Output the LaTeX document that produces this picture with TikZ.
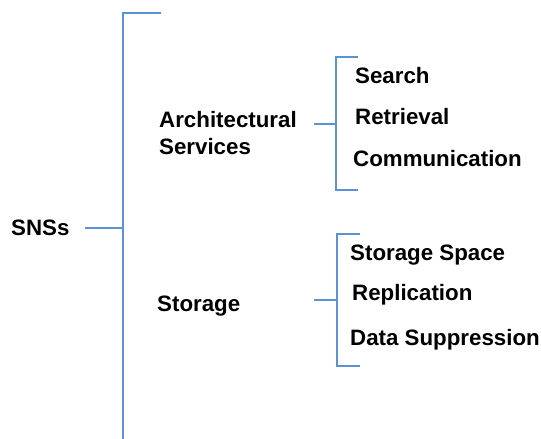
\documentclass[tikz,border=0pt]{standalone}
\usepackage{fontspec}
\setmainfont{Liberation Sans}
\begin{document}
\begin{tikzpicture}[x=1pt,y=-1pt,
  lbl/.style={anchor=base west,inner sep=0pt,font=\fontsize{22.3}{27}\selectfont\bfseries,text=black},
  brk/.style={draw=blue1,line width=1.4pt}]
\definecolor{blue1}{RGB}{91,146,214}
\useasboundingbox (0,0) rectangle (541,439);
% texts
\node[lbl] (sns) at (11,235.5) {SNSs};
\node[lbl,align=left,anchor=north west] (arch) at (159,111) {Architectural\\Services};
\node[lbl] (stor) at (157,311.5) {Storage};
\node[lbl] (search) at (355,83.5) {Search};
\node[lbl] (retr) at (355,124.5) {Retrieval};
\node[lbl] (comm) at (353,166) {Communication};
\node[lbl] (ss) at (350,260) {Storage Space};
\node[lbl] (repl) at (352,300.5) {Replication};
\node[lbl] (ds) at (350,345.5) {Data Suppression};
% bracket coordinates
\coordinate (b0top) at (161,13);
\coordinate (b0tc) at (123,13);
\coordinate (b0bot) at (123,440);
\coordinate (b0mid) at (123,228);
\coordinate (b0stem) at (85,228);
\coordinate (b1t) at (358,57);
\coordinate (b1tc) at (336,57);
\coordinate (b1bc) at (336,190);
\coordinate (b1b) at (358,190);
\coordinate (b1mid) at (336,124);
\coordinate (b1stem) at (314,124);
\coordinate (b2t) at (360,234);
\coordinate (b2tc) at (337,234);
\coordinate (b2bc) at (337,366);
\coordinate (b2b) at (360,366);
\coordinate (b2mid) at (337,300);
\coordinate (b2stem) at (314,300);
% brackets
\draw[brk] (b0top) -- (b0tc) -- (b0bot);
\draw[brk] (b0stem) -- (b0mid);
\draw[brk] (b1t) -- (b1tc) -- (b1bc) -- (b1b);
\draw[brk] (b1stem) -- (b1mid);
\draw[brk] (b2t) -- (b2tc) -- (b2bc) -- (b2b);
\draw[brk] (b2stem) -- (b2mid);
\end{tikzpicture}
\end{document}
